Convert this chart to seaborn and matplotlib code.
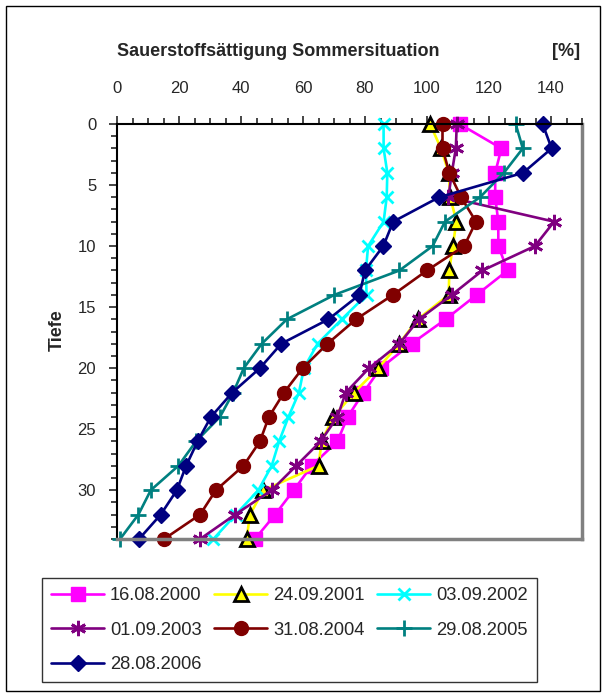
import matplotlib
matplotlib.use("Agg")
import matplotlib.pyplot as plt
import matplotlib.patches as mpatches
from matplotlib.ticker import MultipleLocator
import pandas as pd
import seaborn as sns

# Tiefe [m] und Sauerstoffsaettigung [%] je Messtermin
tiefe = [0, 2, 4, 6, 8, 10, 12, 14, 16, 18, 20, 22, 24, 26, 28, 30, 32, 34]

s_2000 = [110.5, 124, 122, 122, 123, 123, 126, 116, 106, 95, 85, 79.5, 74.4, 71.1, 62.8, 57, 51, 44.5]
s_2001 = [101, 104.5, 107, 107.5, 109.5, 108.3, 107.2, 107, 97, 91, 84.3, 76.5, 69.8, 66, 65, 47.2, 42.9, 41.8]
s_2002 = [86, 86, 87.2, 87, 86, 81, 80.3, 80.5, 72.5, 64.7, 60.3, 58.7, 55.3, 52.3, 49.9, 45.6, 38.3, 31.1]
s_2003 = [109.6, 109.3, 108, 106.9, 141, 134.8, 117.9, 108, 97.4, 91.1, 81.3, 73.8, 71.1, 65.7, 57.8, 49.9, 38.1, 26.8]
s_2004 = [105, 105, 107.2, 111, 115.8, 112, 100, 89, 77.1, 67.9, 59.9, 53.9, 49, 46.1, 40.8, 31.9, 26.8, 15.2]
s_2005 = [128.6, 130.9, 124.8, 117.1, 105.8, 101.8, 91.1, 70.1, 54.8, 46.7, 40.9, 37.5, 33.2, 25.5, 19.8, 10.9, 6.9, 1]
s_2006 = [137.3, 140.2, 131, 103.9, 89.1, 85.9, 80, 78.2, 68.2, 53, 46.1, 37.2, 30.3, 26, 22.3, 19.3, 14.1, 7.1]

termine = ['16.08.2000', '24.09.2001', '03.09.2002', '01.09.2003',
           '31.08.2004', '29.08.2005', '28.08.2006']
werte = [s_2000, s_2001, s_2002, s_2003, s_2004, s_2005, s_2006]

# Stil je Serie (Farbe, Marker, Groesse, Kantenfarbe)
stile = [
    ('#FF00FF', 's', 10, '#FF00FF'),
    ('#FFFF00', '^', 9.5, 'black'),
    ('#00FFFF', 'x', 9, '#00FFFF'),
    ('#800080', (6, 2, 0), 11, '#800080'),
    ('#800000', 'o', 10, '#800000'),
    ('#008080', '+', 11, '#008080'),
    ('#000080', 'D', 8, '#000080'),
]

sns.set_style('white')
plt.rcParams['font.family'] = ['Liberation Sans', 'DejaVu Sans']

fig = plt.figure(figsize=(6.05, 6.99), dpi=100)
ax = fig.add_axes([117 / 605, 1 - 539 / 699, 465 / 605, 415 / 699])

for name, vals, (farbe, marker, ms, kante) in zip(termine, werte, stile):
    df = pd.DataFrame({'Saettigung': vals, 'Tiefe': tiefe})
    sns.lineplot(data=df, x='Saettigung', y='Tiefe', sort=False, estimator=None,
                 color=farbe, marker=marker, markersize=ms, markeredgecolor=kante,
                 markeredgewidth=2 if marker in ('x', '+', (6, 2, 0), '^') else 1,
                 linewidth=1.9, label=name, ax=ax, legend=False, clip_on=False)

ax.set_xlim(0, 150)
ax.set_ylim(34, 0)
ax.xaxis.tick_top()
ax.xaxis.set_minor_locator(MultipleLocator(5))
ax.yaxis.set_minor_locator(MultipleLocator(1))
ax.set_xticks(range(0, 141, 20))
ax.set_yticks(range(0, 31, 5))
ax.tick_params(axis='x', which='major', direction='out', length=6, width=1.2,
               labelsize=12, pad=14, top=True, bottom=False)
ax.tick_params(axis='x', which='minor', direction='out', length=4, width=1.2,
               top=True, bottom=False)
ax.tick_params(axis='y', which='major', direction='out', length=6, width=1.2,
               labelsize=12, pad=9, left=True)
ax.tick_params(axis='y', which='minor', direction='out', length=4, width=1.2, left=True)
ax.set_xlabel('')
ax.set_ylabel('')

for s in ['left', 'top']:
    ax.spines[s].set_color('black')
    ax.spines[s].set_linewidth(1.5)
for s in ['right', 'bottom']:
    ax.spines[s].set_color('#808080')
    ax.spines[s].set_linewidth(2.5)

fig.text(117 / 605, 1 - 52 / 699, 'Sauerstoffsättigung Sommersituation',
         fontsize=13, fontweight='bold', ha='left', va='center')
fig.text(580 / 605, 1 - 52 / 699, '[%]', fontsize=13, fontweight='bold',
         ha='right', va='center')
fig.text(57 / 605, 1 - 330 / 699, 'Tiefe', fontsize=13, fontweight='bold',
         rotation=90, ha='center', va='center')

# Legende zeilenweise fuellen (3 Spalten)
handles, labels = ax.get_legend_handles_labels()
order = [0, 3, 6, 1, 4, 2, 5]
leg = fig.legend([handles[i] for i in order], [labels[i] for i in order],
                 ncol=3, loc='upper left',
                 bbox_to_anchor=(42 / 605, 1 - 578 / 699),
                 frameon=True, fancybox=False, edgecolor='black', fontsize=13.2,
                 handlelength=2.9, handletextpad=0.3, columnspacing=0.7,
                 labelspacing=0.95, borderpad=0.5, borderaxespad=0)
leg.get_frame().set_linewidth(1)

fig.patches.append(mpatches.Rectangle((6 / 605, 8 / 699), 594 / 605, 685 / 699,
                                      transform=fig.transFigure, fill=False,
                                      edgecolor='black', linewidth=1))

fig.savefig('out.png', dpi=100)
